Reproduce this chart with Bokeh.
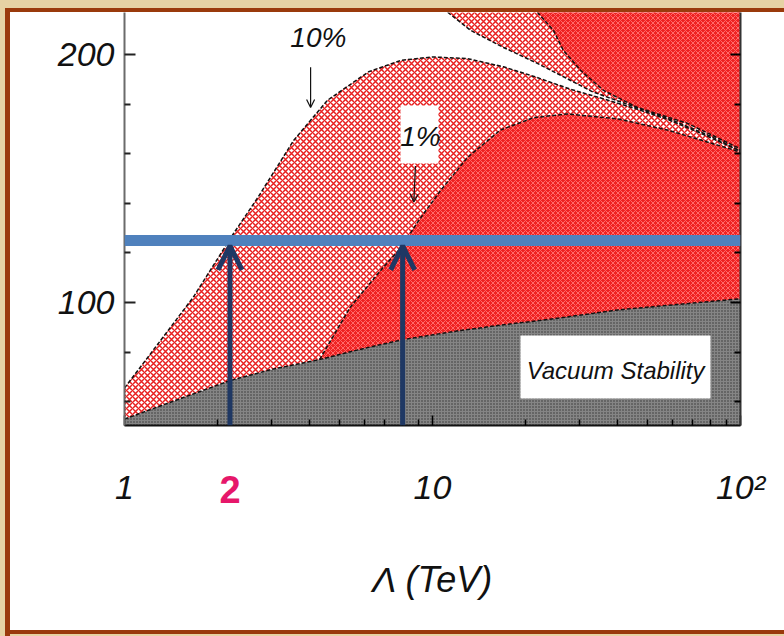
from bokeh.plotting import figure
from bokeh.models import (Range1d, FixedTicker, LinearAxis, LogAxis, Span, Arrow, OpenHead,
                          Label, BoxAnnotation)
from bokeh.embed import file_html
from bokeh.resources import INLINE

# ---- data (Lambda in TeV, Higgs mass in GeV) ----
vac_lambda = [1, 1.5, 2.2, 3, 4.3, 6, 8, 12, 17, 25, 40, 60, 100]
vac_mh = [53, 61, 68.5, 73, 77, 81.5, 85, 88.5, 91, 93.5, 97, 99, 101.5]

ft1_lambda = [4.3, 5.4, 6.9, 7.9, 8.9, 10.6, 13, 16.6, 21.3, 27.4, 40, 58, 95, 100]
ft1_mh = [77, 98, 114, 122, 132, 145, 158.5, 169.5, 174.5, 176, 174, 169.5, 161.5, 160.5]

ft10_lambda = [1, 1.31, 1.67, 2.26, 2.7, 3.54, 4.56, 6.2, 7.9, 10, 13, 17, 21.5, 28, 35, 46, 58, 75, 100]
ft10_mh = [65.5, 84.7, 102, 127.8, 142, 165.3, 181.5, 193, 197.6, 199, 198.3, 195, 191, 186, 182.5, 178, 173.8, 168, 161]

upper_lambda = [11.2, 13.3, 17, 21.9, 28.1, 33, 46, 60, 80, 100]
upper_mh = [217, 209.7, 202.8, 196.4, 189.5, 185, 178.5, 173.5, 167, 161]

solid_lambda = [21.9, 24.7, 26.6, 30.3, 35.9, 46.3, 67.3, 97.8, 100]
solid_mh = [217, 209.7, 201.6, 193.5, 185.5, 178.6, 172.2, 162.5, 161.2]

higgs_mass = 125
arrow_lambda = [2.2, 8.0]
marked_lambda_label = "2"

y_ticks = [100, 200]
y_minor = [60, 80, 120, 140, 160, 180]
x_ticks = [1, 10, 100]
x_minor = [2, 3, 4, 5, 6, 7, 8, 9, 20, 30, 40, 50, 60, 70, 80, 90]
x_tick_labels = {1: "1", 10: "10", 100: "10\u00b2"}

FONT = "Liberation Sans"
Y0, Y1 = 50.4, 216.9
TOP = 230

p = figure(x_axis_type="log", x_range=Range1d(1, 100), y_range=Range1d(Y0, Y1),
           frame_width=616, frame_height=413,
           min_border_left=124, min_border_right=44, min_border_top=12, min_border_bottom=211,
           output_backend="svg", toolbar_location=None,
           background_fill_color="white", border_fill_color=None)
p.grid.visible = False
p.outline_line_color = None
p.styles = {
    "background-color": "#ffffff",
    "box-shadow": "inset 5px 8px 0 0 #e6d2a4, inset 10px 12px 0 0 #9a3a0c, "
                  "inset 0 -2px 0 0 #e6d2a4, inset 0 -6px 0 0 #9a3a0c",
}

LIGHT = dict(fill_color="#ffffff", line_color=None, hatch_pattern="diagonal_cross",
             hatch_color="#e82020", hatch_scale=6, hatch_weight=1.5)
SOLID = dict(fill_color="#ef2222", line_color=None, hatch_pattern="diagonal_cross",
             hatch_color="#ff6b6b", hatch_scale=5, hatch_weight=1)

# ---- regions ----
gx = list(vac_lambda) + [100, 1]
gy = list(vac_mh) + [40, 40]
p.patch(gx, gy, fill_color="#858585", line_color=None,
        hatch_pattern="dot", hatch_color="#333333", hatch_scale=3, hatch_weight=1)

vac_after = [(l, m) for l, m in zip(vac_lambda, vac_mh) if l > ft1_lambda[0]]
ax = list(ft1_lambda) + [l for l, m in reversed(vac_after)]
ay = list(ft1_mh) + [m for l, m in reversed(vac_after)]
p.patch(ax, ay, **SOLID)

vac_before = [(l, m) for l, m in zip(vac_lambda, vac_mh) if l < ft1_lambda[0]]
bx = list(ft10_lambda) + list(reversed(ft1_lambda)) + [l for l, m in reversed(vac_before)]
by = list(ft10_mh) + list(reversed(ft1_mh)) + [m for l, m in reversed(vac_before)]
p.patch(bx, by, **LIGHT)

cx = list(upper_lambda) + [100, upper_lambda[0]]
cy = list(upper_mh) + [TOP, TOP]
p.patch(cx, cy, **LIGHT)

dx = list(solid_lambda) + [100, solid_lambda[0]]
dy = list(solid_mh) + [TOP, TOP]
p.patch(dx, dy, **SOLID)

for xs, ys in [(vac_lambda, vac_mh), (ft1_lambda, ft1_mh), (ft10_lambda, ft10_mh),
               (upper_lambda, upper_mh), (solid_lambda, solid_mh)]:
    p.line(xs, ys, line_color="#111111", line_width=1.5, line_dash="4 2")

# ---- axes ----
ya = p.yaxis[0]
ya.ticker = FixedTicker(ticks=y_ticks, minor_ticks=y_minor)
ya.axis_line_color = "#6b6b6b"
ya.axis_line_width = 2
ya.major_tick_in = 11
ya.major_tick_out = 0
ya.minor_tick_in = 6
ya.minor_tick_out = 0
ya.major_tick_line_width = 2
ya.minor_tick_line_width = 2
ya.major_tick_line_color = "#222222"
ya.minor_tick_line_color = "#222222"
ya.major_label_text_font = FONT
ya.major_label_text_font_style = "italic"
ya.major_label_text_font_size = "34px"
ya.major_label_text_color = "#111111"
ya.major_label_standoff = 10

ra = LinearAxis(ticker=FixedTicker(ticks=y_ticks, minor_ticks=y_minor),
                major_label_overrides={t: "" for t in y_ticks})
ra.axis_line_color = "#333333"
ra.axis_line_width = 2
ra.major_tick_in = 10
ra.major_tick_out = 0
ra.minor_tick_in = 6
ra.minor_tick_out = 0
ra.major_tick_line_width = 2
ra.minor_tick_line_width = 2
p.add_layout(ra, "right")

xa = p.xaxis[0]
xa.ticker = FixedTicker(ticks=x_ticks, minor_ticks=x_minor)
xa.major_label_overrides = x_tick_labels
xa.axis_line_color = "#111111"
xa.axis_line_width = 2
xa.major_tick_in = 10
xa.major_tick_out = 0
xa.minor_tick_in = 6
xa.minor_tick_out = 0
xa.major_tick_line_width = 1.5
xa.minor_tick_line_width = 1.5
xa.major_label_text_font = FONT
xa.major_label_text_font_style = "italic"
xa.major_label_text_font_size = "34px"
xa.major_label_text_color = "#111111"
xa.major_label_standoff = 42
xa.axis_label = "\u039b (TeV)"
xa.axis_label_text_font = FONT
xa.axis_label_text_font_style = "italic"
xa.axis_label_text_font_size = "36px"
xa.axis_label_text_color = "#111111"
xa.axis_label_standoff = 50

# marked value "2" in pink, on the same row as the tick labels
xb = LogAxis(ticker=FixedTicker(ticks=[arrow_lambda[0]], minor_ticks=[]),
             major_label_overrides={arrow_lambda[0]: marked_lambda_label})
xb.axis_line_color = None
xb.major_tick_line_color = None
xb.minor_tick_line_color = None
xb.major_label_text_font = FONT
xb.major_label_text_font_style = "bold"
xb.major_label_text_font_size = "38px"
xb.major_label_text_color = "#e6176a"
xb.major_label_standoff = -133
p.add_layout(xb, "below")

# ---- Higgs mass line and arrows ----
p.add_layout(Span(location=higgs_mass, dimension="width", line_color="#4f81bd", line_width=11))
NAVY = "#1f3864"
for lam in arrow_lambda:
    p.add_layout(Arrow(end=OpenHead(size=24, line_color=NAVY, line_width=5),
                       x_start=lam, y_start=Y0, x_end=lam, y_end=higgs_mass - 2.2,
                       line_color=NAVY, line_width=5))

# ---- labels ----
p.add_layout(BoxAnnotation(left=19.3, right=79.9, bottom=61.3, top=86.7,
                           fill_color="white", fill_alpha=1, line_color=None))
p.add_layout(Label(x=39.3, y=72.6, text="Vacuum Stability", text_font=FONT,
                   text_font_style="italic", text_font_size="24px", text_color="#111111",
                   text_align="center", text_baseline="middle"))

p.add_layout(BoxAnnotation(left=7.87, right=10.45, bottom=156.0, top=179.4,
                           fill_color="white", fill_alpha=1, line_color=None))
p.add_layout(Label(x=9.14, y=166.9, text="1%", text_font=FONT,
                   text_font_style="italic", text_font_size="28px", text_color="#111111",
                   text_align="center", text_baseline="middle"))
p.add_layout(Arrow(end=OpenHead(size=8, line_color="#111111", line_width=1.2),
                   x_start=8.8, y_start=155.0, x_end=8.7, y_end=140.5,
                   line_color="#111111", line_width=1.2))

p.add_layout(Label(x=4.26, y=206.9, text="10%", text_font=FONT,
                   text_font_style="italic", text_font_size="28px", text_color="#111111",
                   text_align="center", text_baseline="middle"))
p.add_layout(Arrow(end=OpenHead(size=8, line_color="#111111", line_width=1.2),
                   x_start=4.02, y_start=194.8, x_end=4.02, y_end=178.6,
                   line_color="#111111", line_width=1.2))

html = file_html(p, INLINE)
html = html.replace("<head>", "<head><style>html, body { background: #e6d2a4; }</style>", 1)
open("out.html", "w").write(html)
